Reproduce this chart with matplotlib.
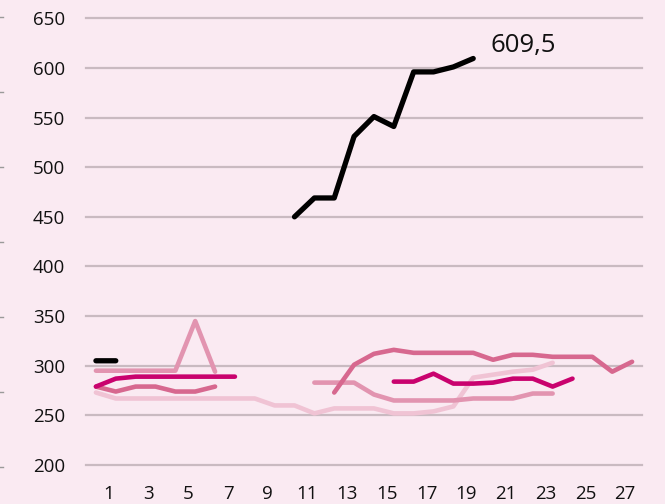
import numpy as np
import matplotlib.pyplot as plt
import matplotlib.transforms as mtransforms
from matplotlib.lines import Line2D

plt.rcParams['font.family'] = ['Open Sans', 'DejaVu Sans']

nan = np.nan

# categorie (giorni) e serie
giorni = np.arange(1, 29)
etichette_x = list(range(1, 28, 2))
tick_y = list(range(200, 651, 50))

serie_nera = [305, 305] + [nan] * 8 + \
    [450, 469, 469, 531, 551, 541, 596, 596, 601, 609.5] + [nan] * 8
serie_magenta = [279, 287, 289, 289, 289, 289, 289, 289] + [nan] * 7 + \
    [284, 284, 292, 282, 282, 283, 287, 287, 279, 287] + [nan] * 3
serie_rosa = [279, 274, 279, 279, 274, 274, 279] + [nan] * 5 + \
    [273, 301, 312, 316, 313, 313, 313, 313, 306, 311, 311, 309, 309, 309, 294, 304]
serie_rosa_chiaro = [295, 295, 295, 295, 295, 345, 294] + [nan] * 4 + \
    [283, 283, 283, 271, 265, 265, 265, 265, 267, 267, 267, 272, 272] + [nan] * 4
serie_rosa_pallido = [273, 267, 267, 267, 267, 267, 267, 267, 267, 260, 260, 252,
                      257, 257, 257, 252, 252, 254, 259, 288, 291, 294, 296, 303] + [nan] * 4

sfondo = '#FAEAF2'
griglia = '#C9BAC1'

fig = plt.figure(figsize=(6.65, 5.04), dpi=100, facecolor=sfondo)
ax = fig.add_axes([86 / 665, 39 / 504, 556 / 665, 446.7 / 504])
ax.set_facecolor(sfondo)

stile = dict(lw=3.3, solid_capstyle='round', solid_joinstyle='round')
ax.plot(giorni, serie_rosa_pallido, color='#F0C3D4', **stile)
ax.plot(giorni, serie_rosa_chiaro, color='#E294B0', **stile)
ax.plot(giorni, serie_rosa, color='#D7688F', **stile)
ax.plot(giorni, serie_magenta, color='#C9026E', **stile)
ax.plot(giorni, serie_nera, color='black', lw=3.8,
        solid_capstyle='round', solid_joinstyle='round')

# etichetta dell'ultimo valore
ax.annotate('609,5', xy=(20, serie_nera[19]), xytext=(12.5, 5),
            textcoords='offset points', ha='left', va='baseline',
            fontsize=18.5, color='#111111')

ax.set_xlim(0.5, 28.5)
ax.set_ylim(200, 650)
ax.set_yticks(tick_y)
ax.set_xticks(etichette_x)
ax.grid(axis='y', color=griglia, lw=1.6)
ax.set_axisbelow(True)
for g in ax.yaxis.get_gridlines():
    g.set_clip_on(False)
for s in ax.spines.values():
    s.set_visible(False)
ax.tick_params(axis='y', length=0, pad=15, labelsize=13.5, labelcolor='#111111')
ax.tick_params(axis='x', length=0, pad=14.5, labelsize=13.5, labelcolor='#111111')

# le etichette x sono spostate a destra rispetto ai punti
sposta = mtransforms.ScaledTranslation(13 / 100, 0, fig.dpi_scale_trans)
for lab in ax.get_xticklabels():
    lab.set_transform(lab.get_transform() + sposta)

# trattini residui sul bordo sinistro
for yp in range(17, 470, 75):
    fig.add_artist(Line2D([0, 3 / 665], [1 - yp / 504] * 2, color='#9A9A9A', lw=1))

fig.savefig('out.png', dpi=100, facecolor=sfondo)
